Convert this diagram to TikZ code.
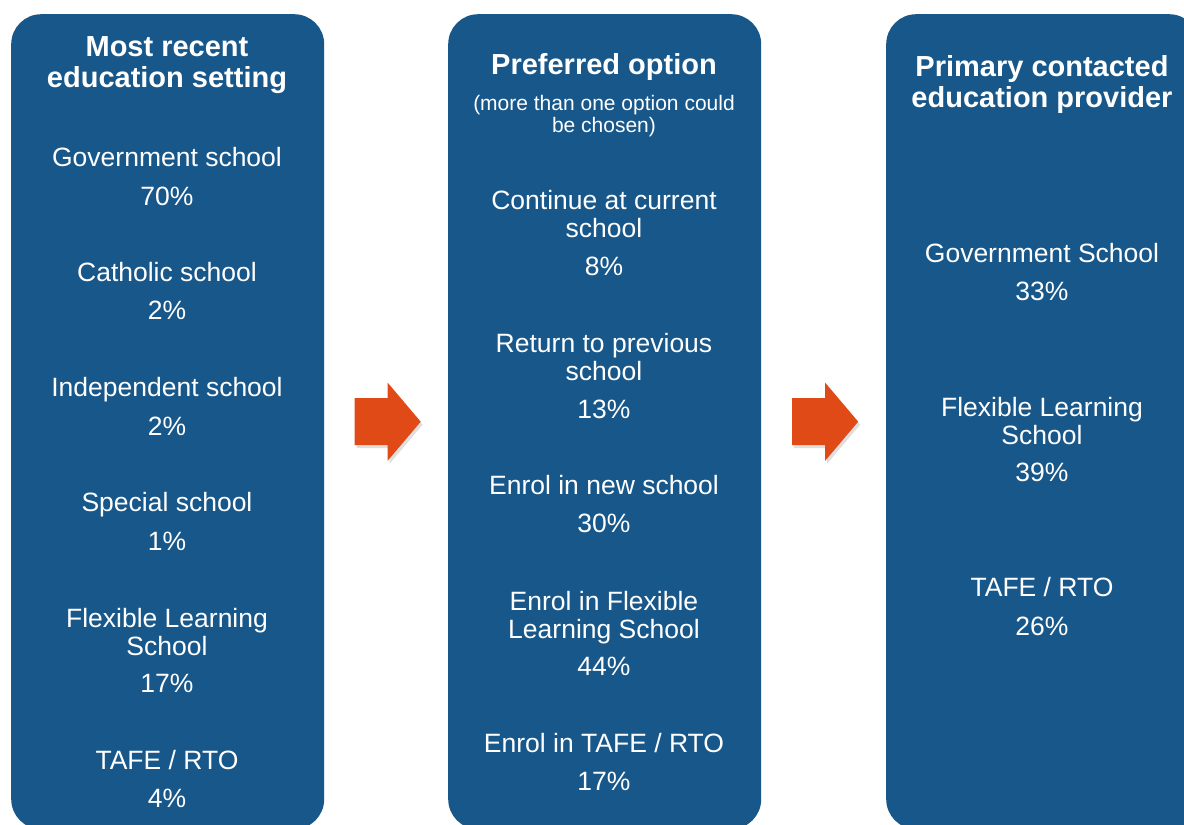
\documentclass[tikz,border=0pt]{standalone}
\usepackage{fontspec}
\setmainfont{Liberation Sans}
\usetikzlibrary{positioning, calc, shadows}
\definecolor{panelblue}{RGB}{24,87,138}
\definecolor{arroworange}{RGB}{224,74,22}

\begin{document}
\begin{tikzpicture}[
    x=1pt, y=-1pt,
    panel/.style={rectangle, fill=panelblue, rounded corners=30pt, minimum width=313pt, minimum height=815pt, anchor=north west, inner sep=0pt},
    headtext/.style={text=white, font=\fontsize{29}{31}\selectfont\bfseries, align=center, anchor=north, inner sep=0pt},
    notetext/.style={text=white, font=\fontsize{21}{22}\selectfont, align=center, anchor=north, inner sep=0pt},
    itemtext/.style={text=white, font=\fontsize{26.5}{27.5}\selectfont, align=center, anchor=north, inner sep=0pt},
    blockarrow/.style={fill=arroworange, drop shadow={opacity=0.25, shadow xshift=2pt, shadow yshift=-3pt}}
]
    \clip (0,0) rectangle (1184,825);

    % Panels
    \node[panel] (left) at (11,14) {};
    \node[panel] (mid) at (448,14) {};
    \node[panel] (right) at (886,14) {};

    % Headings
    \node[headtext] (headL) at (167,36.6) {Most recent\\education setting};
    \node[headtext] (headM) at (604,53.6) {Preferred option};
    \node[notetext] (noteM) at (604,95.5) {(more than one option could\\be chosen)};
    \node[headtext] (headR) at (1042,55.6) {Primary contacted\\education provider};

    % Left column
    \foreach \ly/\txt [count=\i] in {157/Government school, 272/Catholic school,
        387/Independent school, 502/Special school,
        618/{Flexible Learning\\School}, 760/{TAFE / RTO}}
        \node[itemtext] (labL\i) at (167,\ly-9.5) {\txt};
    \foreach \py/\val [count=\i] in {196/70, 310/2, 426/2, 541/1, 683/17, 798/4}
        \node[itemtext] (valL\i) at (167,\py-9.5) {\val\%};

    % Middle column
    \foreach \ly/\txt [count=\i] in {200/{Continue at current\\school}, 343/{Return to previous\\school},
        485/Enrol in new school, 601/{Enrol in Flexible\\Learning School}, 743/{Enrol in TAFE / RTO}}
        \node[itemtext] (labM\i) at (604,\ly-9.5) {\txt};
    \foreach \py/\val [count=\i] in {266/8, 409/13, 523/30, 666/44, 781/17}
        \node[itemtext] (valM\i) at (604,\py-9.5) {\val\%};

    % Right column
    \foreach \ly/\txt [count=\i] in {253/Government School, 407/{Flexible Learning\\School}, 587/{TAFE / RTO}}
        \node[itemtext] (labR\i) at (1042,\ly-9.5) {\txt};
    \foreach \py/\val [count=\i] in {291/33, 472/39, 626/26}
        \node[itemtext] (valR\i) at (1042,\py-9.5) {\val\%};

    % Arrows between panels
    \foreach \a/\b in {left/mid, mid/right}
        \fill[blockarrow, shift={($(\a.east)!0.5!(\b.west)$)}]
            (-31.5,-23.5) -- (1.5,-23.5) -- (1.5,-39) -- (34.5,0)
            -- (1.5,39) -- (1.5,23.5) -- (-31.5,23.5) -- cycle;
\end{tikzpicture}
\end{document}
